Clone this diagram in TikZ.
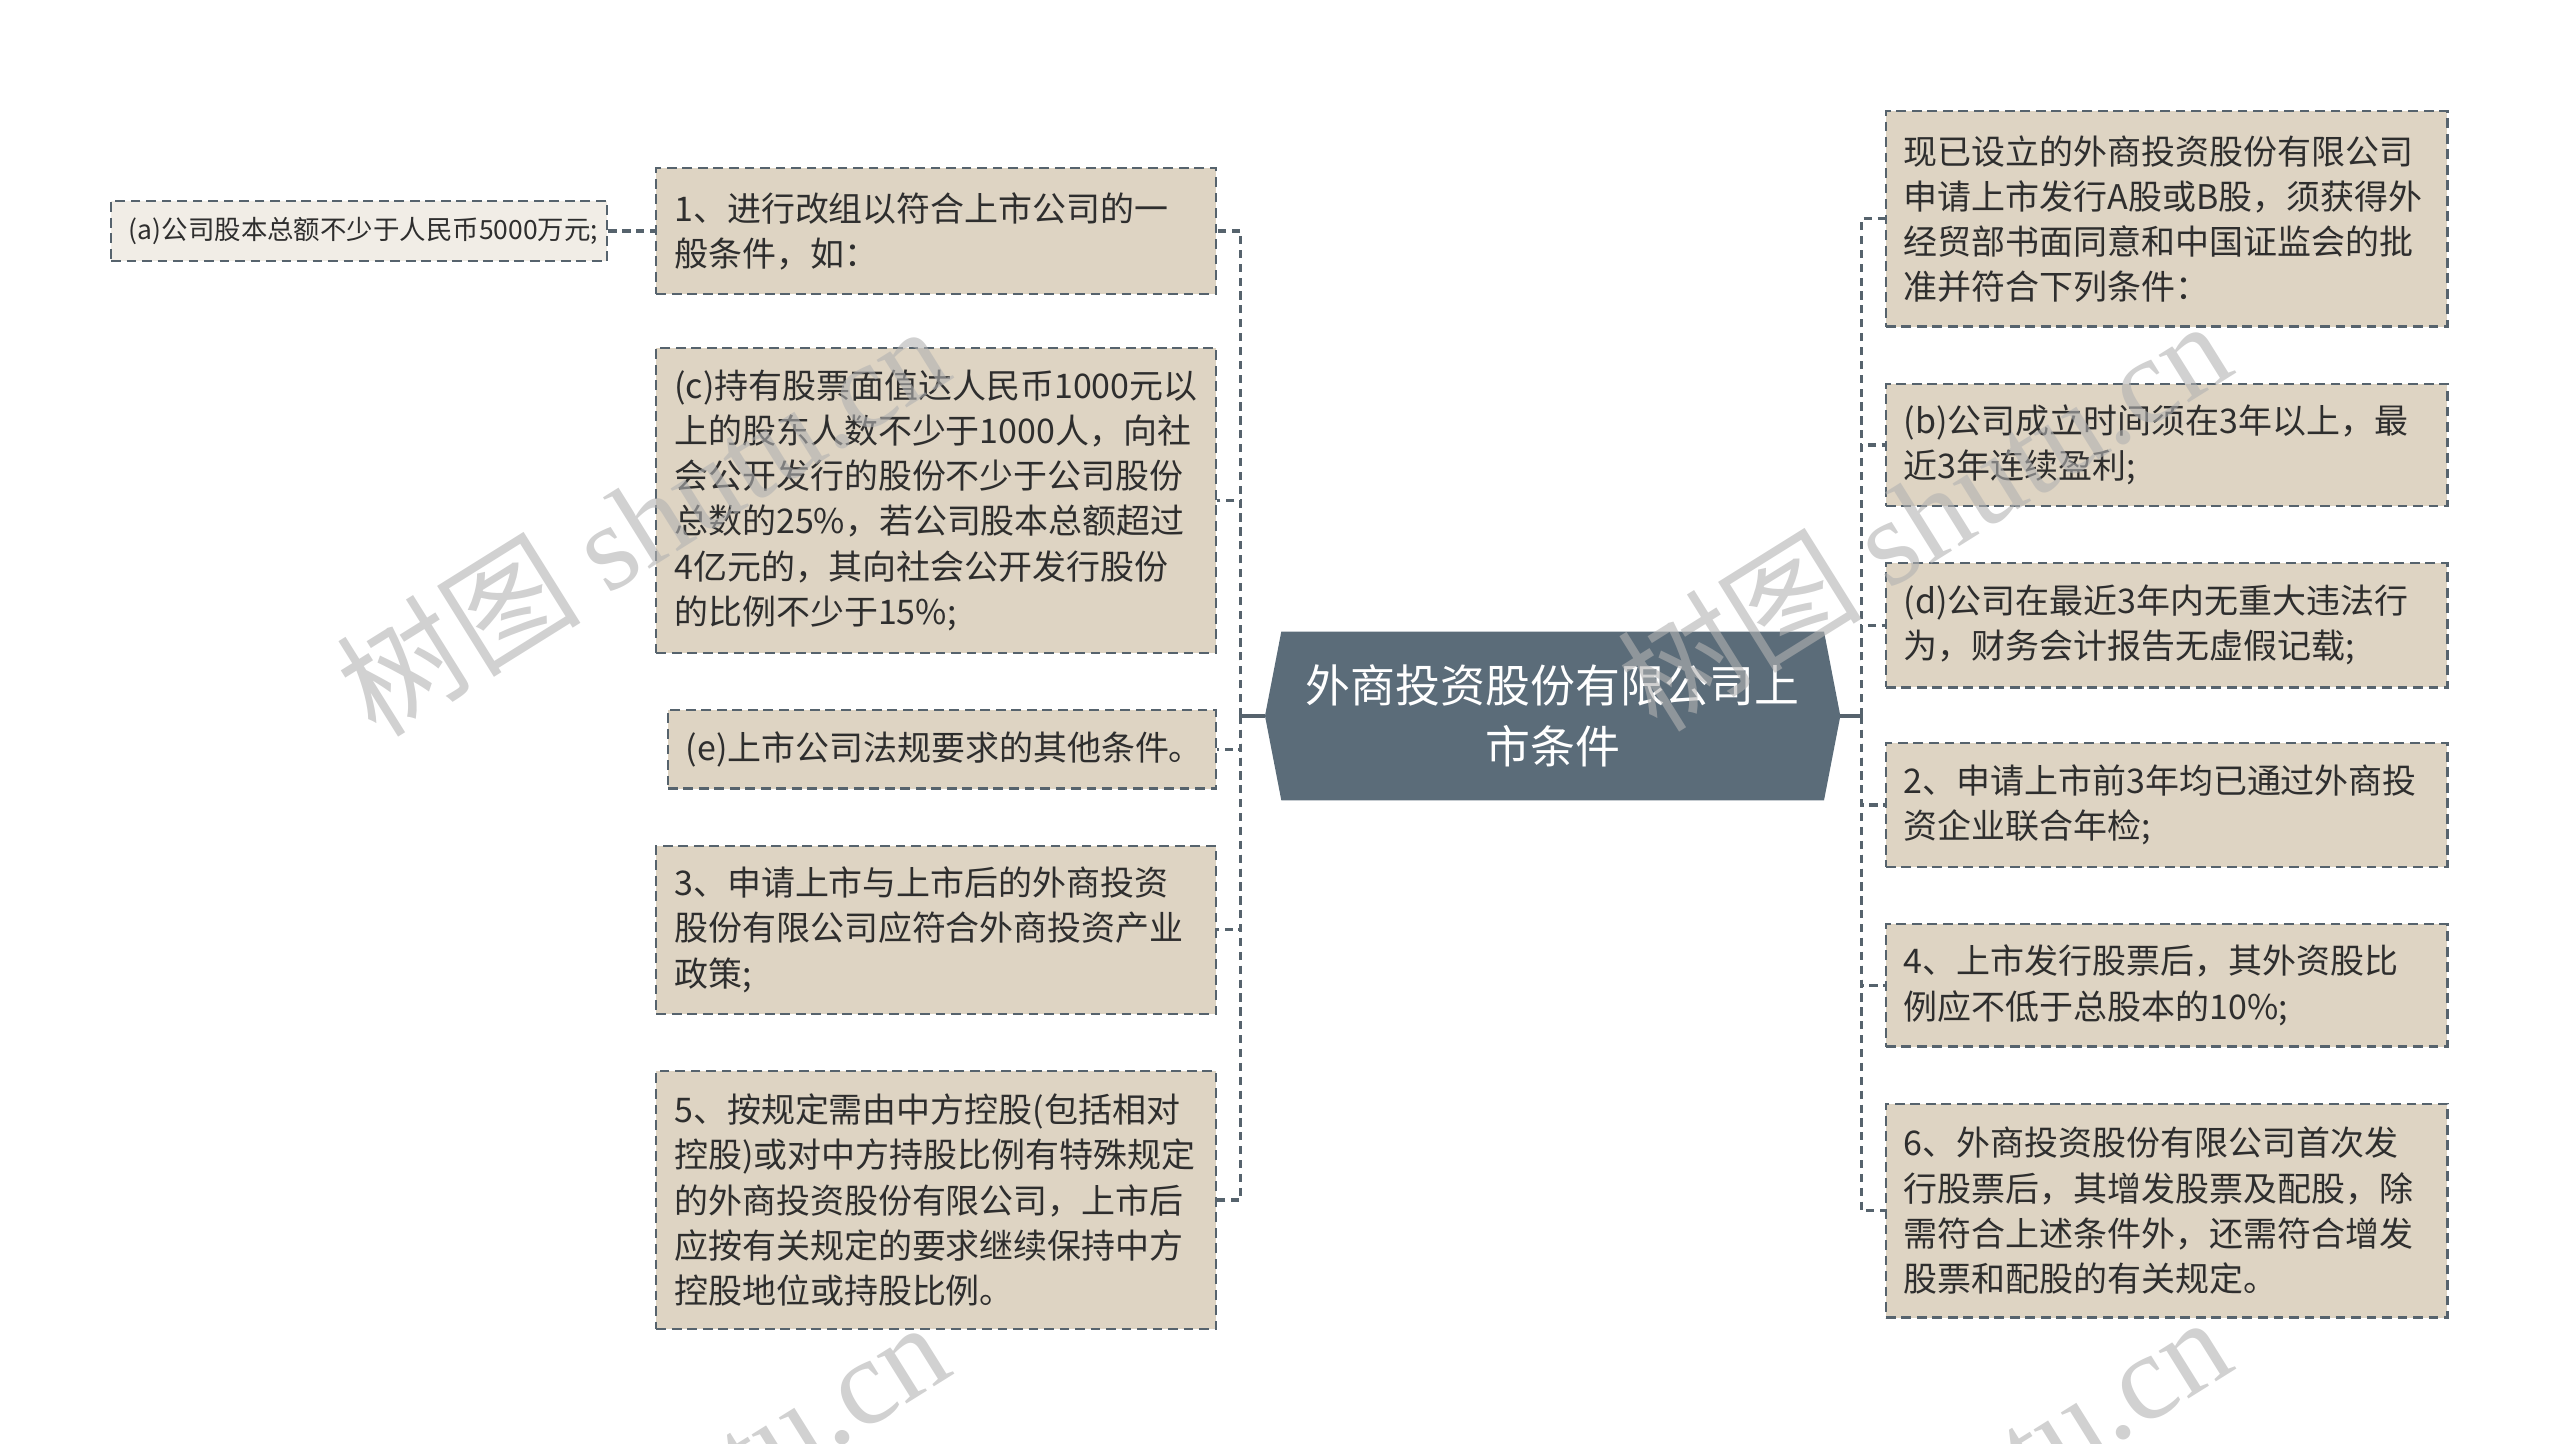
\documentclass[tikz,border=0pt]{standalone}
\usepackage{fontspec}
\setmainfont{Noto Sans CJK SC}
\newfontfamily\wmfont{Liberation Serif}
\usetikzlibrary{backgrounds}
\definecolor{leaffill}{HTML}{DED4C3}
\definecolor{smallfill}{HTML}{F1EDE6}
\definecolor{linec}{HTML}{56636D}
\definecolor{rootfill}{HTML}{5B6C79}
\definecolor{textc}{HTML}{2E2E2E}
\tikzset{
  leaf/.style={draw=linec, line width=1.4pt, dash pattern=on 6pt off 3.5pt,
    fill=leaffill, text=textc, font=\fontsize{20.8pt}{27.6pt}\selectfont,
    align=left, text width=321pt, inner xsep=11pt, inner ysep=0pt},
  small/.style={leaf, fill=smallfill, font=\fontsize{16.2pt}{20pt}\selectfont,
    align=center, text width=282pt},
  link/.style={draw=linec, line width=2pt, dash pattern=on 5pt off 3.5pt},
  stem/.style={draw=linec, line width=2pt},
  wm/.style={text=black!30, opacity=0.6, rotate=32,
    font=\fontsize{75pt}{75pt}\selectfont}
}
\begin{document}
\begin{tikzpicture}[x=1pt,y=-1pt]
      \useasboundingbox (0,0) rectangle (1568,884);
      % centre
      \node[minimum width=352pt, minimum height=103pt, text=white, align=center,
        font=\fontsize{27.5pt}{37pt}\selectfont] (root) at (951,438.5)
        {外商投资股份有限公司上\\市条件};
      \begin{scope}[on background layer]
        \fill[rootfill] (root.west) -- ([xshift=10pt]root.north west)
          -- ([xshift=-10pt]root.north east) -- (root.east)
          -- ([xshift=-10pt]root.south east) -- ([xshift=10pt]root.south west) -- cycle;
      \end{scope}
      % left side
      \node[leaf, minimum height=77pt] (l1) at (573.5,141.5)
        {1、进行改组以符合上市公司的一\\般条件，如：};
      \node[leaf, minimum height=187pt] (l2) at (573.5,306.5)
        {(c)持有股票面值达人民币1000元以\\上的股东人数不少于1000人，向社\\会公开发行的股份不少于公司股份\\总数的25\%，若公司股本总额超过\\4亿元的，其向社会公开发行股份\\的比例不少于15\%;};
      \node[leaf, text width=314pt, minimum height=48pt] (l3) at (577,459)
        {(e)上市公司法规要求的其他条件。};
      \node[leaf, minimum height=103pt] (l4) at (573.5,569.5)
        {3、申请上市与上市后的外商投资\\股份有限公司应符合外商投资产业\\政策;};
      \node[leaf, minimum height=158pt] (l5) at (573.5,735)
        {5、按规定需由中方控股(包括相对\\控股)或对中方持股比例有特殊规定\\的外商投资股份有限公司，上市后\\应按有关规定的要求继续保持中方\\控股地位或持股比例。};
      \node[small, minimum height=37pt] (la) at (220,141.5)
        {(a)公司股本总额不少于人民币5000万元;};
      % right side
      \node[leaf, text width=322pt, minimum height=132pt] (r1) at (1327,134)
        {现已设立的外商投资股份有限公司\\申请上市发行A股或B股，须获得外\\经贸部书面同意和中国证监会的批\\准并符合下列条件：};
      \node[leaf, text width=322pt, minimum height=75pt] (r2) at (1327,272.5)
        {(b)公司成立时间须在3年以上，最\\近3年连续盈利;};
      \node[leaf, text width=322pt, minimum height=76pt] (r3) at (1327,383)
        {(d)公司在最近3年内无重大违法行\\为，财务会计报告无虚假记载;};
      \node[leaf, text width=322pt, minimum height=76pt] (r4) at (1327,493)
        {2、申请上市前3年均已通过外商投\\资企业联合年检;};
      \node[leaf, text width=322pt, minimum height=75pt] (r5) at (1327,603.5)
        {4、上市发行股票后，其外资股比\\例应不低于总股本的10\%;};
      \node[leaf, text width=322pt, minimum height=131pt] (r6) at (1327,741.5)
        {6、外商投资股份有限公司首次发\\行股票后，其增发股票及配股，除\\需符合上述条件外，还需符合增发\\股票和配股的有关规定。};
      \coordinate (lt) at (760,438.5);
      \coordinate (rt) at (1140,438.5);
      \draw[stem] (root.west) -- (lt);
      \draw[stem] (root.east) -- (rt);
      \begin{scope}[link]
        \draw (lt) |- (l1.east);
        \draw (lt) |- (l2.east);
        \draw (lt) |- (l3.east);
        \draw (lt) |- (l4.east);
        \draw (lt) |- (l5.east);
        \draw (rt) |- (r1.west);
        \draw (rt) |- (r2.west);
        \draw (rt) |- (r3.west);
        \draw (rt) |- (r4.west);
        \draw (rt) |- (r5.west);
        \draw (rt) |- (r6.west);
        \draw (la.east) -- (l1.west);
      \end{scope}
      % watermarks
      \node[wm] (wm1) at (393,318) {树图 {\wmfont shutu.cn}};
      \node[wm] (wm2) at (1178,315) {树图 {\wmfont shutu.cn}};
      \node[wm] (wm3) at (393,928) {树图 {\wmfont shutu.cn}};
      \node[wm] (wm4) at (1178,925) {树图 {\wmfont shutu.cn}};
    \end{tikzpicture}
\end{document}
